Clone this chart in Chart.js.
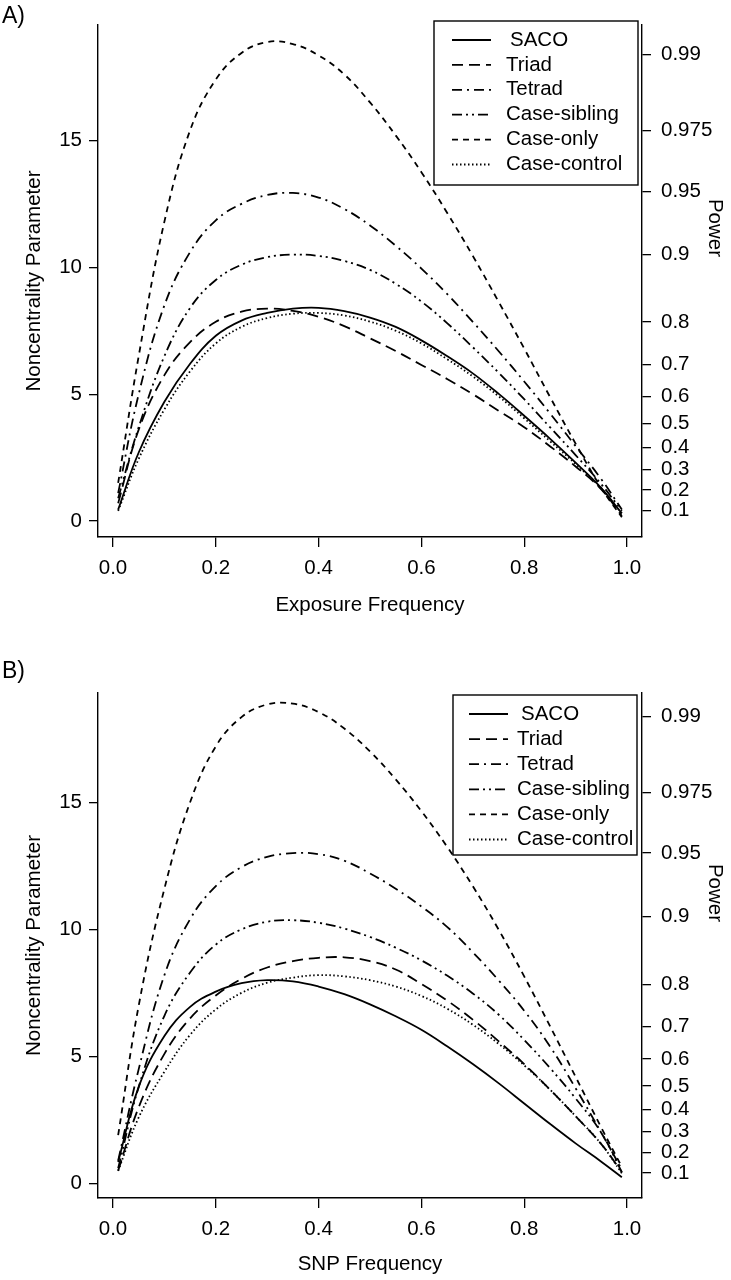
<!DOCTYPE html>
<html>
<head>
<meta charset="utf-8">
<script src="https://cdn.jsdelivr.net/npm/chart.js@4.4.1/dist/chart.umd.min.js"></script>
<style>
  html, body { margin: 0; padding: 0; background: #fff; }
  .panel { position: absolute; left: 0; width: 731px; height: 640px; }
</style>
</head>
<body>
<div class="panel" style="top:0"><canvas id="chartA"></canvas></div>
<div class="panel" style="top:640px"><canvas id="chartB"></canvas></div>
<script>
// frequencies at which the curves were read
const freq = [0.01, 0.05, 0.1, 0.15, 0.2, 0.25, 0.3, 0.35, 0.4, 0.45, 0.5,
              0.55, 0.6, 0.65, 0.7, 0.75, 0.8, 0.85, 0.9, 0.95, 0.99];
const seriesNames = ["SACO", "Triad", "Tetrad", "Case-sibling", "Case-only", "Case-control"];
const xTicks = [0, 0.2, 0.4, 0.6, 0.8, 1.0];
const ncpTicks = [0, 5, 10, 15];
const powerLabels = ["0.1", "0.2", "0.3", "0.4", "0.5", "0.6", "0.7", "0.8", "0.9", "0.95", "0.975", "0.99"];
const powerNcp = [0.41, 1.22, 2.04, 2.9, 3.84, 4.9, 6.17, 7.84, 10.51, 13.0, 15.39, 18.38];

// A) exposure frequency
const sacoA     = [0.45, 2.7, 4.7, 6.2, 7.3, 7.9, 8.2, 8.37, 8.4, 8.27, 8.02, 7.65, 7.12, 6.5, 5.82, 5.02, 4.15, 3.25, 2.3, 1.3, 0.3];
const triadA    = [0.7, 3.6, 5.75, 7.05, 7.85, 8.25, 8.37, 8.28, 8.05, 7.68, 7.2, 6.7, 6.15, 5.6, 5.0, 4.35, 3.7, 2.95, 2.15, 1.25, 0.2];
const tetradA   = [1.1, 5.0, 8.5, 10.6, 11.85, 12.5, 12.85, 12.93, 12.75, 12.3, 11.65, 10.85, 9.95, 8.95, 7.85, 6.7, 5.5, 4.25, 2.95, 1.65, 0.45];
const caseSibA  = [0.9, 3.7, 6.5, 8.4, 9.5, 10.1, 10.4, 10.5, 10.45, 10.25, 9.9, 9.35, 8.65, 7.8, 6.85, 5.85, 4.8, 3.7, 2.6, 1.45, 0.4];
const caseOnlyA = [1.5, 6.5, 11.8, 15.4, 17.4, 18.45, 18.88, 18.8, 18.35, 17.6, 16.5, 15.2, 13.75, 12.15, 10.45, 8.65, 6.8, 4.9, 3.05, 1.3, 0.15];
const caseCtrlA = [0.4, 2.45, 4.4, 5.9, 7.0, 7.65, 8.0, 8.17, 8.2, 8.1, 7.86, 7.5, 7.0, 6.38, 5.7, 4.92, 4.05, 3.15, 2.25, 1.28, 0.3];

// B) SNP frequency
const sacoB     = [0.85, 3.8, 5.8, 6.95, 7.55, 7.88, 8.0, 7.95, 7.75, 7.45, 7.05, 6.58, 6.05, 5.4, 4.7, 3.95, 3.15, 2.35, 1.58, 0.86, 0.25];
const triadB    = [0.5, 3.0, 5.1, 6.5, 7.4, 8.05, 8.5, 8.75, 8.88, 8.9, 8.75, 8.42, 7.85, 7.2, 6.45, 5.6, 4.7, 3.7, 2.65, 1.55, 0.45];
const tetradB   = [0.9, 4.5, 8.2, 10.4, 11.7, 12.45, 12.85, 13.0, 12.96, 12.7, 12.2, 11.6, 10.9, 10.1, 9.1, 8.0, 6.8, 5.4, 3.75, 2.0, 0.55];
const caseSibB  = [0.6, 3.8, 6.6, 8.3, 9.4, 10.0, 10.3, 10.36, 10.26, 10.03, 9.7, 9.28, 8.78, 8.18, 7.48, 6.65, 5.65, 4.55, 3.35, 2.0, 0.45];
const caseOnlyB = [1.9, 7.0, 11.6, 15.0, 17.2, 18.35, 18.85, 18.88, 18.55, 17.9, 17.0, 15.9, 14.65, 13.25, 11.7, 10.0, 8.15, 6.2, 4.2, 2.2, 0.65];
const caseCtrlB = [0.5, 2.6, 4.4, 5.85, 6.85, 7.5, 7.9, 8.1, 8.2, 8.15, 8.0, 7.75, 7.38, 6.88, 6.25, 5.5, 4.65, 3.7, 2.65, 1.55, 0.4];

const dashes = [[], [11, 6], [10, 5, 2, 5], [10, 4, 2, 4, 2, 4], [6, 5], [1.5, 2.5]];
const FONT = { family: '"Liberation Sans", Arial, Helvetica, sans-serif', size: 20.5 };
const INK = "#000";

// legend with frame + panel letter + right-hand "Power" label
const figureText = {
  id: "figureText",
  afterDraw(chart, args, o) {
    const ctx = chart.ctx;
    ctx.save();
    ctx.fillStyle = INK;
    ctx.textBaseline = "middle";
    ctx.textAlign = "left";
    ctx.font = `23px ${FONT.family}`;
    ctx.fillText(o.panel, o.panelX, o.panelY);
    ctx.font = `${FONT.size}px ${FONT.family}`;

    // legend frame
    ctx.fillStyle = "#fff";
    ctx.fillRect(o.box[0], o.box[1], o.box[2], o.box[3]);
    ctx.strokeStyle = INK;
    ctx.lineWidth = 1.4;
    ctx.strokeRect(o.box[0], o.box[1], o.box[2], o.box[3]);
    chart.data.datasets.forEach((ds, i) => {
      const y = o.row0 + i * o.rowH;
      ctx.setLineDash(ds.borderDash);
      ctx.lineWidth = ds.borderWidth;
      ctx.beginPath();
      ctx.moveTo(o.line0, y);
      ctx.lineTo(o.line1, y);
      ctx.stroke();
      ctx.setLineDash([]);
      ctx.fillStyle = INK;
      ctx.fillText(ds.label, i === 0 ? o.textX + 4 : o.textX, y);
    });

    ctx.translate(o.powerX, o.powerY);
    ctx.rotate(Math.PI / 2);
    ctx.textAlign = "center";
    ctx.fillText("Power", 0, 0);
    ctx.restore();
  }
};

function makePanel(id, cfg) {
  const datasets = seriesNames.map((name, i) => ({
    label: name,
    data: freq.map((f, j) => ({ x: f, y: cfg.series[i][j] })),
    borderColor: INK,
    borderWidth: 1.8,
    borderDash: dashes[i],
    pointRadius: 0,
    tension: 0.4,
    fill: false
  }));
  const axisGrid = { drawOnChartArea: false, color: INK, lineWidth: 1.3 };
  return new Chart(document.getElementById(id), {
    type: "line",
    data: { datasets },
    options: {
      responsive: true,
      maintainAspectRatio: false,
      animation: false,
      layout: { padding: { top: cfg.top, left: 0, right: 0, bottom: 0 } },
      plugins: {
        legend: { display: false },
        tooltip: { enabled: false },
        figureText: cfg.text
      },
      scales: {
        x: {
          type: "linear",
          min: -0.0292,
          max: 1.0292,
          afterBuildTicks: s => { s.ticks = xTicks.map(v => ({ value: v })); },
          afterFit: s => { s.height = cfg.xHeight; },
          ticks: { callback: v => v.toFixed(1), font: FONT, color: INK, padding: 9, maxRotation: 0, autoSkip: false },
          grid: { ...axisGrid, tickLength: 10 },
          border: { color: INK, width: 1.4 },
          title: { display: true, text: cfg.xTitle, font: FONT, color: INK, padding: { top: 0, bottom: cfg.xTitlePad } }
        },
        y: {
          position: "left",
          min: cfg.yMin,
          max: cfg.yMax,
          afterBuildTicks: s => { s.ticks = ncpTicks.map(v => ({ value: v })); },
          afterFit: s => { s.width = 98; },
          ticks: { font: FONT, color: INK, padding: 7 },
          grid: { ...axisGrid, tickLength: 9 },
          border: { color: INK, width: 1.4 },
          title: { display: true, text: "Noncentrality Parameter", font: FONT, color: INK, padding: { top: 22, bottom: 0 } }
        },
        y2: {
          position: "right",
          min: cfg.yMin,
          max: cfg.yMax,
          afterBuildTicks: s => { s.ticks = powerNcp.map(v => ({ value: v })); },
          afterFit: s => { s.width = 89; },
          ticks: { callback: (v, i) => powerLabels[i], font: FONT, color: INK, padding: 10, autoSkip: false },
          grid: { ...axisGrid, tickLength: 9 },
          border: { color: INK, width: 1.4 }
        }
      }
    },
    plugins: [figureText]
  });
}

makePanel("chartA", {
  series: [sacoA, triadA, tetradA, caseSibA, caseOnlyA, caseCtrlA],
  top: 25, xHeight: 103, xTitle: "Exposure Frequency", xTitlePad: 22,
  yMin: -0.63, yMax: 19.55,
  text: { panel: "A)", panelX: 2, panelY: 17,
          box: [434, 21, 204, 164], row0: 40, rowH: 24.9, line0: 452, line1: 491, textX: 506,
          powerX: 715, powerY: 228 }
});

makePanel("chartB", {
  series: [sacoB, triadB, tetradB, caseSibB, caseOnlyB, caseCtrlB],
  top: 53, xHeight: 82, xTitle: "SNP Frequency", xTitlePad: 3,
  yMin: -0.57, yMax: 19.3,
  text: { panel: "B)", panelX: 2, panelY: 32,
          box: [453, 55, 184, 160], row0: 74, rowH: 25.1, line0: 469, line1: 508, textX: 517,
          powerX: 715, powerY: 893 - 640 }
});
</script>
</body>
</html>
